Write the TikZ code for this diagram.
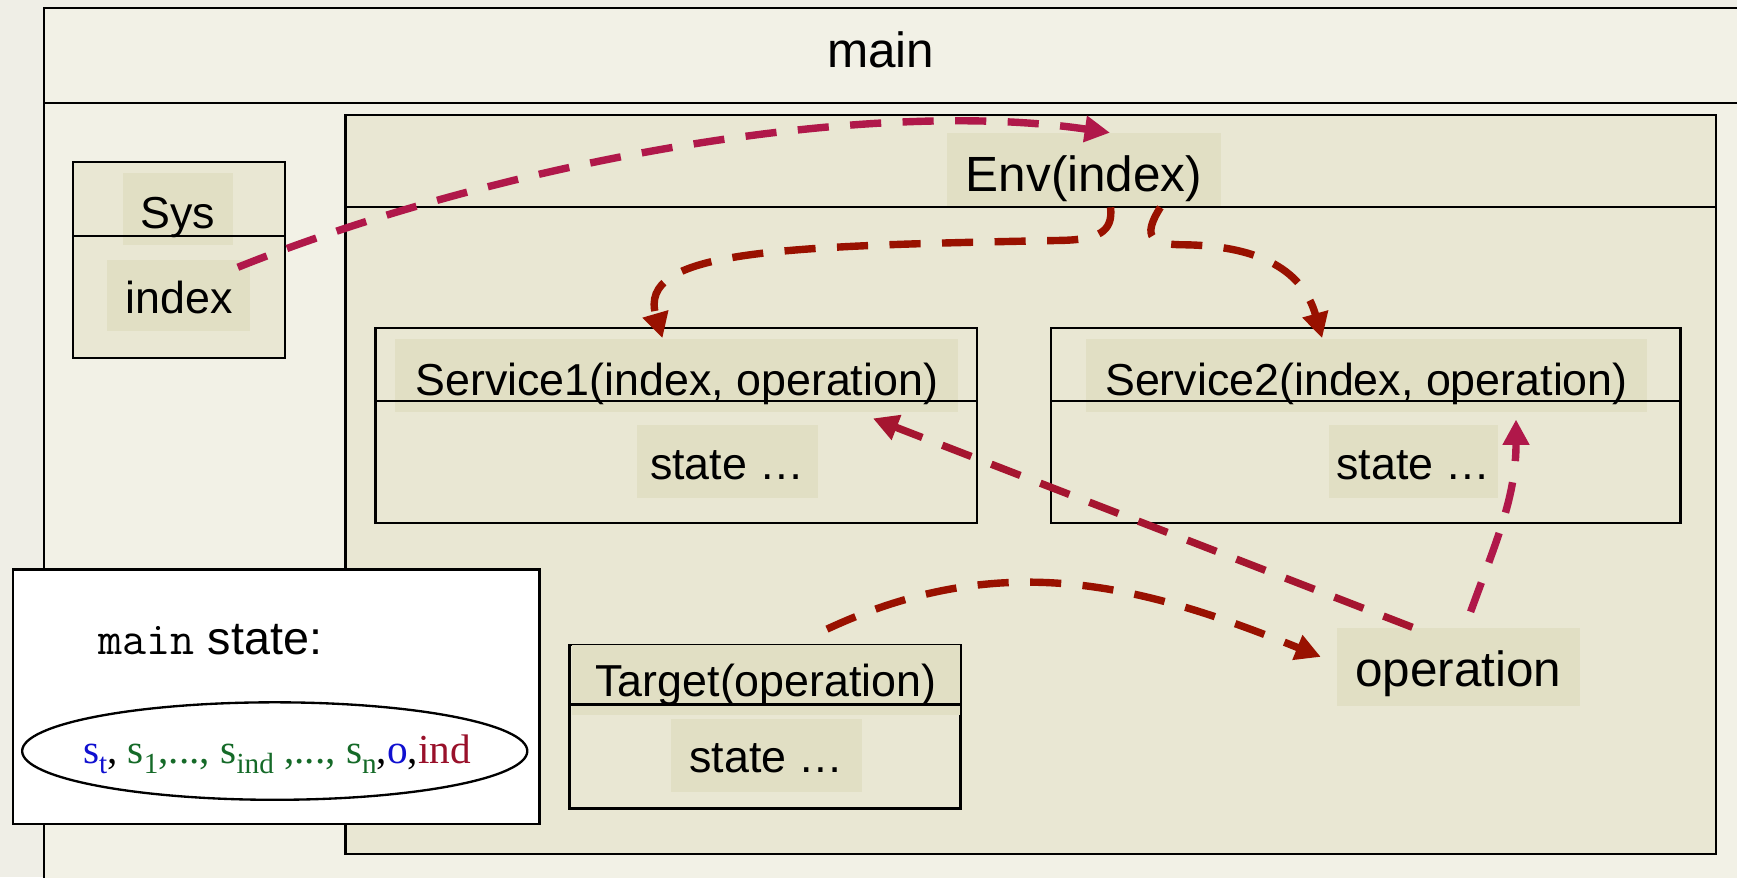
\documentclass[tikz,border=0pt]{standalone}
\usepackage{fontspec}
\setmainfont{Liberation Sans}
\newfontfamily\timesfont{Liberation Serif}
\usepackage{tikz}
\usetikzlibrary{arrows.meta}
\usetikzlibrary{calc}

\definecolor{paper}{HTML}{EFEEE6}
\definecolor{mainfill}{HTML}{F2F1E6}
\definecolor{envfill}{HTML}{E9E7D3}
\definecolor{lblfill}{HTML}{E1DFC4}
\definecolor{flowcrimson}{HTML}{B0184A}
\definecolor{flowwine}{HTML}{A51530}
\definecolor{flowred}{HTML}{991100}
\definecolor{stblue}{HTML}{1010D0}
\definecolor{stgreen}{HTML}{156A28}
\definecolor{stred}{HTML}{99102A}

\newcommand{\lowr}[1]{\raisebox{-0.5ex}{\fontsize{7.5}{8}\selectfont #1}}
\newcommand{\bigsz}{\fontsize{12.7}{15}\selectfont}
\newcommand{\txtsz}{\fontsize{11.5}{14}\selectfont}

\begin{document}
\begin{tikzpicture}[
  umlbox/.style={draw, line width=0.6pt, fill=envfill, inner sep=0pt},
  lbl/.style={fill=lblfill, inner sep=0pt, font=\txtsz},
  flow/.style={line width=1.9pt, dash pattern=on 8pt off 5.5pt, -{Triangle[length=6.5pt,width=6.5pt]}}
]
\useasboundingbox (0,0) rectangle (15.68,7.92);
\clip (0,0) rectangle (15.68,7.92);
\fill[paper] (0,0) rectangle (15.68,7.92);

% main
\draw[fill=mainfill, line width=0.6pt] (0.40,-0.5) rectangle (16.2,7.85);
\draw[line width=0.6pt] (0.40,6.99) -- (16.2,6.99);
\node[font=\bigsz] (mainlbl) at (7.95,7.47) {main};

% Env
\node[umlbox, minimum width=12.37cm, minimum height=6.67cm] (env) at (9.305,3.545) {};
\node[lbl, font=\bigsz, minimum width=2.47cm, text height=0.52cm, text depth=0.14cm] (envlbl) at (9.785,6.385) {Env(index)};
\draw[line width=0.6pt] (3.12,6.05) -- (15.48,6.05);

% Sys
\node[umlbox, minimum width=1.91cm, minimum height=1.77cm] (sys) at (1.615,5.575) {};
\node[lbl, minimum width=0.99cm, text height=0.50cm, text depth=0.15cm] (syslbl) at (1.605,6.03) {Sys};
\node[lbl, minimum width=1.29cm, text height=0.48cm, text depth=0.16cm] (sysidx) at (1.615,5.25) {index};
\draw[line width=0.6pt] (0.66,5.79) -- (2.57,5.79);

% Service1, Service2
\node[umlbox, minimum width=5.43cm, minimum height=1.76cm] (svcone) at (6.105,4.08) {};
\node[lbl, minimum width=5.08cm, text height=0.51cm, text depth=0.15cm] (svc1lbl) at (6.11,4.53) {Service1(index, operation)};
\node[lbl, minimum width=1.63cm, text height=0.49cm, text depth=0.17cm] (svc1st) at (6.565,3.75) {state …};
\draw[line width=0.6pt] (3.39,4.30) -- (8.82,4.30);

\node[umlbox, minimum width=5.68cm, minimum height=1.76cm] (svctwo) at (12.33,4.08) {};
\node[lbl, minimum width=5.07cm, text height=0.51cm, text depth=0.15cm] (svc2lbl) at (12.335,4.53) {Service2(index, operation)};
\node[lbl, minimum width=1.52cm, text height=0.49cm, text depth=0.17cm] (svc2st) at (12.76,3.75) {state …};
\draw[line width=0.6pt] (9.49,4.30) -- (15.17,4.30);

% Target
\node[umlbox, minimum width=3.53cm, minimum height=1.48cm] (tgt) at (6.905,1.36) {};
\node[lbl, minimum width=3.51cm, text height=0.47cm, text depth=0.16cm] (tgtlbl) at (6.915,1.785) {Target(operation)};
\node[lbl, minimum width=1.72cm, text height=0.48cm, text depth=0.18cm] (tgtst) at (6.92,1.10) {state …};
\draw[line width=0.6pt] (5.14,1.56) -- (8.67,1.56);

\node[lbl, font=\bigsz, minimum width=2.19cm, text height=0.53cm, text depth=0.17cm] (oplbl) at (13.165,1.90) {operation};

% main state
\node[draw, line width=0.6pt, fill=white, minimum width=4.75cm, minimum height=2.30cm] (statebox) at (2.495,1.63) {};
\node[font=\fontsize{12}{14}\selectfont] (statelbl) at (1.90,2.15) {\texttt{main} state:};
\node[font=\timesfont\fontsize{10.6}{12}\selectfont, inner sep=0pt] (stvars) at (2.50,1.11)
  {\textcolor{stblue}{s\lowr{t}}, \textcolor{stgreen}{s\lowr{1},..., s\lowr{ind} ,..., s\lowr{n}},\textcolor{stblue}{o},\textcolor{stred}{ind}};
\draw[line width=0.6pt] (2.48,1.14) ellipse [x radius=2.28cm, y radius=0.44cm];

% flows
\draw[flow, flowcrimson] ([xshift=-0.12cm,yshift=-0.07cm]sysidx.north east)
  .. controls (4.5,6.45) and (7.8,7.05) .. ([xshift=0.235cm]envlbl.north);
\draw[flow, flowred] ([xshift=0.24cm]envlbl.south)
  .. controls (10.05,5.82) and (9.90,5.76) .. (9.60,5.75)
  .. controls (7.00,5.70) and (5.75,5.66) .. ([xshift=-0.13cm]svc1lbl.north);
\draw[flow, flowred] ([xshift=0.69cm]envlbl.south)
  .. controls (10.30,5.77) and (10.40,5.71) .. (10.70,5.71)
  .. controls (11.30,5.70) and (11.75,5.52) .. ([xshift=-0.40cm]svc2lbl.north);
\draw[flow, flowwine] ([xshift=-0.415cm]oplbl.north) -- ([xshift=1.77cm,yshift=-0.05cm]svc1lbl.south);
\draw[flow, flowred] ([xshift=0.56cm,yshift=0.13cm]tgt.north) to[out=25,in=158] ([xshift=-0.14cm,yshift=0.09cm]oplbl.west);
\draw[flow, flowcrimson] ([xshift=0.11cm,yshift=0.14cm]oplbl.north) to[out=70,in=-90] ([xshift=1.35cm,yshift=-0.06cm]svc2lbl.south);
\end{tikzpicture}
\end{document}
